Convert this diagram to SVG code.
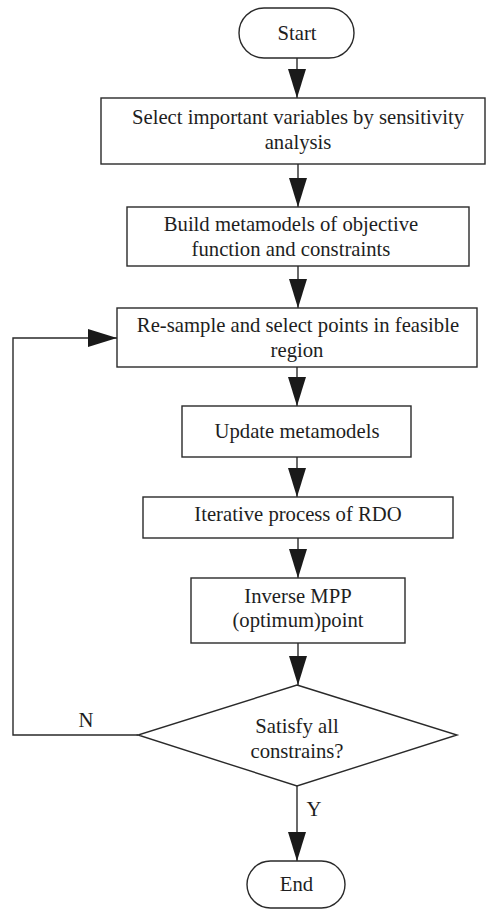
<svg xmlns="http://www.w3.org/2000/svg" width="486" height="909" viewBox="0 0 486 909">
<style>
.shape{fill:#fff;stroke:#2a2a2a;stroke-width:1.4}
.conn{fill:none;stroke:#2a2a2a;stroke-width:1.4}
.t{font-family:'Liberation Serif',Tinos,'Times New Roman',Times,'DejaVu Serif',serif;font-size:20.7px;fill:#1e1e1e;text-anchor:middle}
</style>
<defs>
<marker id="arr" markerUnits="userSpaceOnUse" markerWidth="30" markerHeight="20" refX="29" refY="9" orient="auto">
<path d="M0,0 L29,9 L0,18 Z" fill="#1a1a1a"/>
</marker>
</defs>
<rect width="486" height="909" fill="#fff"/>
<g id="connectors">
<line class="conn" x1="297" y1="58" x2="297" y2="98" marker-end="url(#arr)"/>
<line class="conn" x1="298" y1="164" x2="298" y2="207" marker-end="url(#arr)"/>
<line class="conn" x1="298" y1="266" x2="298" y2="308" marker-end="url(#arr)"/>
<line class="conn" x1="297" y1="367" x2="297" y2="406" marker-end="url(#arr)"/>
<line class="conn" x1="297" y1="457" x2="297" y2="497" marker-end="url(#arr)"/>
<line class="conn" x1="298" y1="538" x2="298" y2="578" marker-end="url(#arr)"/>
<line class="conn" x1="298" y1="643" x2="298" y2="685" marker-end="url(#arr)"/>
<line class="conn" x1="297" y1="786" x2="297" y2="861" marker-end="url(#arr)"/>
<path class="conn" d="M138,735 H13 V338 H117" marker-end="url(#arr)"/>
<text class="t" font-family="Liberation Serif, serif" x="86" y="727">N</text>
<text class="t" font-family="Liberation Serif, serif" x="314" y="816">Y</text>
</g>
<g id="start">
<rect class="shape" x="239" y="8" width="115" height="50" rx="25" ry="25"/>
<text class="t" font-family="Liberation Serif, serif" x="297" y="40">Start</text>
</g>
<g id="select">
<rect class="shape" x="101" y="98" width="384" height="66"/>
<text class="t" font-family="Liberation Serif, serif" x="298" y="124">Select important variables by sensitivity</text>
<text class="t" font-family="Liberation Serif, serif" x="298" y="149">analysis</text>
</g>
<g id="build">
<rect class="shape" x="127" y="207" width="342" height="59"/>
<text class="t" font-family="Liberation Serif, serif" x="291" y="231">Build metamodels of objective</text>
<text class="t" font-family="Liberation Serif, serif" x="291" y="256">function and constraints</text>
</g>
<g id="resample">
<rect class="shape" x="117" y="308" width="360" height="59"/>
<text class="t" font-family="Liberation Serif, serif" x="298" y="332">Re-sample and select points in feasible</text>
<text class="t" font-family="Liberation Serif, serif" x="297" y="357">region</text>
</g>
<g id="update">
<rect class="shape" x="182" y="406" width="229" height="51"/>
<text class="t" font-family="Liberation Serif, serif" x="297" y="438">Update metamodels</text>
</g>
<g id="iterative">
<rect class="shape" x="143" y="497" width="310" height="41"/>
<text class="t" font-family="Liberation Serif, serif" x="298" y="521">Iterative process of RDO</text>
</g>
<g id="inverse">
<rect class="shape" x="191" y="578" width="214" height="65"/>
<text class="t" font-family="Liberation Serif, serif" x="298" y="603">Inverse MPP</text>
<text class="t" font-family="Liberation Serif, serif" x="298" y="627">(optimum)point</text>
</g>
<g id="decision">
<polygon class="shape" points="297,685 457,735 297,786 138,735"/>
<text class="t" font-family="Liberation Serif, serif" x="297" y="733">Satisfy all</text>
<text class="t" font-family="Liberation Serif, serif" x="297" y="758">constrains?</text>
</g>
<g id="end">
<rect class="shape" x="247" y="861" width="98" height="47" rx="23.5" ry="23.5"/>
<text class="t" font-family="Liberation Serif, serif" x="296.5" y="891">End</text>
</g>
</svg>
